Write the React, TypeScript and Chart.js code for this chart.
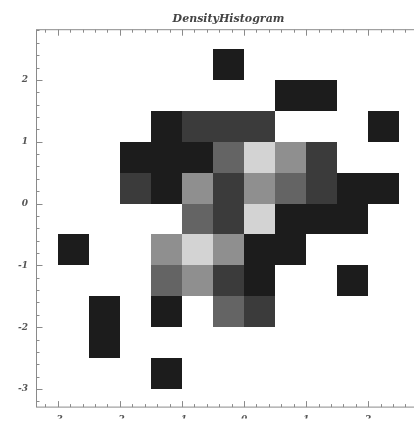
import React, { useEffect, useRef } from "react";
import { Chart, registerables } from "chart.js";

Chart.register(...registerables);

const titleText = "DensityHistogram";
const binWidth = 0.5;

// left edge (x) and bottom edge (y) of each occupied bin, with its count
const cellX = [
  -0.5,
  0.5, 1.0,
  -1.5, -1.0, -0.5, 0.0, 2.0,
  -2.0, -1.5, -1.0, -0.5, 0.0, 0.5, 1.0,
  -2.0, -1.5, -1.0, -0.5, 0.0, 0.5, 1.0, 1.5, 2.0,
  -1.0, -0.5, 0.0, 0.5, 1.0, 1.5,
  -3.0, -1.5, -1.0, -0.5, 0.0, 0.5,
  -1.5, -1.0, -0.5, 0.0, 1.5,
  -2.5, -1.5, -0.5, 0.0,
  -2.5,
  -1.5,
];
const cellY = [
  2.0,
  1.5, 1.5,
  1.0, 1.0, 1.0, 1.0, 1.0,
  0.5, 0.5, 0.5, 0.5, 0.5, 0.5, 0.5,
  0.0, 0.0, 0.0, 0.0, 0.0, 0.0, 0.0, 0.0, 0.0,
  -0.5, -0.5, -0.5, -0.5, -0.5, -0.5,
  -1.0, -1.0, -1.0, -1.0, -1.0, -1.0,
  -1.5, -1.5, -1.5, -1.5, -1.5,
  -2.0, -2.0, -2.0, -2.0,
  -2.5,
  -3.0,
];
const cellCount = [
  1,
  1, 1,
  1, 2, 2, 2, 1,
  1, 1, 1, 3, 5, 4, 2,
  2, 1, 4, 2, 4, 3, 2, 1, 1,
  3, 2, 5, 1, 1, 1,
  1, 4, 5, 4, 1, 1,
  3, 4, 2, 1, 1,
  1, 1, 3, 2,
  1,
  1,
];

const xTickValues = [-3, -2, -1, 0, 1, 2];
const yTickValues = [-3, -2, -1, 0, 1, 2];

const grayLevels = ["#ffffff", "#1c1c1c", "#3b3b3b", "#646464", "#8f8f8f", "#d3d3d3"];

const X_MIN = -3.35;
const X_MAX = 2.85;
const Y_MIN = -3.3;
const Y_MAX = 2.82;

const labelFont = { family: "'DejaVu Serif', serif", size: 9, style: "italic" as const, weight: "bold" as const };

const cellsPlugin = {
  id: "densityCells",
  beforeDatasetsDraw(chart: any) {
    const { ctx, chartArea } = chart;
    const xs = chart.scales.x;
    const ys = chart.scales.y;
    ctx.save();
    ctx.beginPath();
    ctx.rect(chartArea.left, chartArea.top, chartArea.right - chartArea.left, chartArea.bottom - chartArea.top);
    ctx.clip();
    for (let i = 0; i < cellX.length; i++) {
      const x0 = Math.round(xs.getPixelForValue(cellX[i]));
      const x1 = Math.round(xs.getPixelForValue(cellX[i] + binWidth));
      const y0 = Math.round(ys.getPixelForValue(cellY[i] + binWidth));
      const y1 = Math.round(ys.getPixelForValue(cellY[i]));
      ctx.fillStyle = grayLevels[cellCount[i]];
      ctx.fillRect(x0, y0, x1 - x0, y1 - y0);
    }
    ctx.restore();
  },
};

const framePlugin = {
  id: "frameTicks",
  afterDraw(chart: any) {
    const { ctx, chartArea } = chart;
    const xs = chart.scales.x;
    const ys = chart.scales.y;
    const L = chartArea.left + 0.5;
    const R = chartArea.right - 0.5;
    const T = chartArea.top + 0.5;
    const B = chartArea.bottom - 0.5;
    ctx.save();
    ctx.strokeStyle = "#8a8a8a";
    ctx.lineWidth = 1;
    ctx.strokeRect(L, T, R - L, B - T);
    ctx.beginPath();
    for (let k = Math.ceil(X_MIN * 5); k <= Math.floor(X_MAX * 5); k++) {
      const v = k / 5;
      const len = k % 5 === 0 ? 6 : 3;
      const px = Math.round(xs.getPixelForValue(v)) + 0.5;
      ctx.moveTo(px, B);
      ctx.lineTo(px, B - len);
      ctx.moveTo(px, T);
      ctx.lineTo(px, T + len);
    }
    for (let k = Math.ceil(Y_MIN * 5); k <= Math.floor(Y_MAX * 5); k++) {
      const v = k / 5;
      const len = k % 5 === 0 ? 6 : 3;
      const py = Math.round(ys.getPixelForValue(v)) + 0.5;
      ctx.moveTo(L, py);
      ctx.lineTo(L + len, py);
      ctx.moveTo(R, py);
      ctx.lineTo(R - len, py);
    }
    ctx.stroke();
    ctx.restore();
  },
};

export default function App() {
  const canvasRef = useRef<HTMLCanvasElement | null>(null);

  useEffect(() => {
    const canvas = canvasRef.current;
    if (!canvas) return;
    const chart = new Chart(canvas, {
      type: "scatter",
      data: {
        datasets: [
          {
            label: "bins",
            data: cellX.map((x, i) => ({ x: x + binWidth / 2, y: cellY[i] + binWidth / 2 })),
            pointRadius: 0,
            pointHoverRadius: 0,
          },
        ],
      },
      options: {
        animation: false,
        responsive: false,
        devicePixelRatio: 1,
        layout: { padding: 0 },
        plugins: {
          legend: { display: false },
          tooltip: { enabled: false },
          title: {
            display: true,
            text: titleText,
            fullSize: false,
            color: "#444444",
            font: { family: "'DejaVu Serif', serif", size: 11, style: "italic", weight: "bold" },
            padding: { top: 13, bottom: 3 },
          },
        },
        scales: {
          x: {
            type: "linear",
            position: "bottom",
            min: X_MIN,
            max: X_MAX,
            grid: { display: false, drawTicks: false },
            border: { display: false },
            afterBuildTicks: (s: any) => {
              s.ticks = xTickValues.map((v) => ({ value: v }));
            },
            afterFit: (s: any) => {
              s.height = 11;
            },
            ticks: {
              padding: 7,
              color: "#555555",
              font: labelFont,
              maxRotation: 0,
              autoSkip: false,
              callback: (v: any) => String(v),
            },
          },
          y: {
            type: "linear",
            position: "left",
            min: Y_MIN,
            max: Y_MAX,
            grid: { display: false, drawTicks: false },
            border: { display: false },
            afterBuildTicks: (s: any) => {
              s.ticks = yTickValues.map((v) => ({ value: v }));
            },
            afterFit: (s: any) => {
              s.width = 36;
            },
            ticks: {
              padding: 8,
              color: "#555555",
              font: labelFont,
              autoSkip: false,
              callback: (v: any) => String(v),
            },
          },
        },
      },
      plugins: [cellsPlugin, framePlugin],
    });
    return () => chart.destroy();
  }, []);

  return (
    <div
      style={{
        position: "absolute",
        left: 0,
        top: 0,
        width: 414,
        height: 421,
        overflow: "hidden",
        background: "#ffffff",
      }}
    >
      <canvas ref={canvasRef} width={421} height={421} style={{ width: 421, height: 421, display: "block" }} />
    </div>
  );
}
